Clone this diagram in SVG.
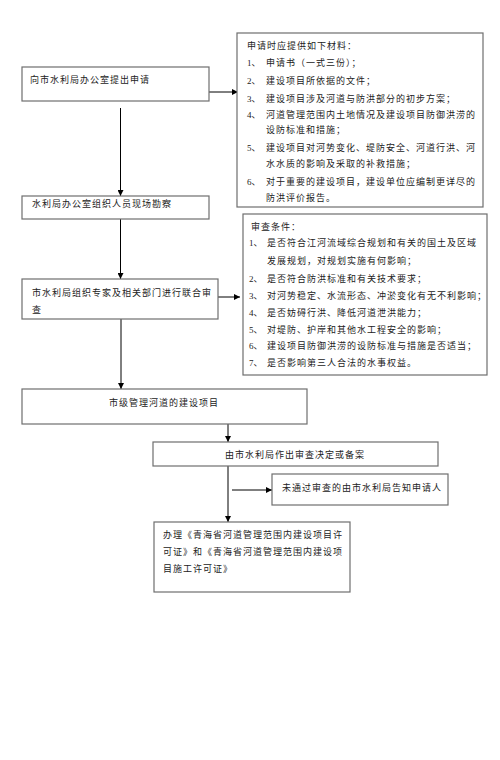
<svg xmlns="http://www.w3.org/2000/svg" width="500" height="760" viewBox="0 0 500 760">
<style>
.box{fill:#fff;stroke:#6e6e6e;stroke-width:1.2}
.ln{stroke:#000;stroke-width:1;fill:none}
text{font-family:"Liberation Serif","Noto Sans CJK SC",serif;font-size:9px;fill:#222;letter-spacing:1px;dominant-baseline:central}
.lb{letter-spacing:0}
</style>
<defs>
<marker id="ah" viewBox="0 0 6 6" refX="6" refY="3" markerWidth="6" markerHeight="6" markerUnits="userSpaceOnUse" orient="auto">
<path d="M0,0 L6,3 L0,6 Z" fill="#000"/>
</marker>
</defs>
<rect width="500" height="760" fill="#fff"/>
<g id="connectors">
<line class="ln" x1="209" y1="92" x2="238" y2="92" marker-end="url(#ah)"/>
<line class="ln" x1="120.5" y1="108" x2="120.5" y2="196" marker-end="url(#ah)"/>
<line class="ln" x1="120.5" y1="219" x2="120.5" y2="279" marker-end="url(#ah)"/>
<line class="ln" x1="218" y1="297" x2="240" y2="297" marker-end="url(#ah)"/>
<line class="ln" x1="121" y1="319" x2="121" y2="389" marker-end="url(#ah)"/>
<line class="ln" x1="228" y1="421" x2="228" y2="442" marker-end="url(#ah)"/>
<line class="ln" x1="228" y1="466" x2="228" y2="522" marker-end="url(#ah)"/>
<line class="ln" x1="232" y1="490" x2="272" y2="490" marker-end="url(#ah)"/>
</g>
<g id="n1">
<rect class="box" x="22" y="67" width="187" height="34"/>
<text x="30" y="80">向市水利局办公室提出申请</text>
</g>
<g id="n2">
<rect class="box" x="237" y="33" width="246" height="174"/>
<text x="247" y="46">申请时应提供如下材料：</text>
<text class="lb" x="247" y="63">1、</text><text x="266" y="63">申请书（一式三份）；</text>
<text class="lb" x="247" y="81">2、</text><text x="266" y="81">建设项目所依据的文件；</text>
<text class="lb" x="247" y="99">3、</text><text x="266" y="99">建设项目涉及河道与防洪部分的初步方案；</text>
<text class="lb" x="247" y="115">4、</text><text x="266" y="115">河道管理范围内土地情况及建设项目防御洪涝的</text>
<text x="266" y="130">设防标准和措施；</text>
<text class="lb" x="247" y="148">5、</text><text x="266" y="148">建设项目对河势变化、堤防安全、河道行洪、河</text>
<text x="266" y="164">水水质的影响及采取的补救措施；</text>
<text class="lb" x="247" y="182">6、</text><text x="266" y="182">对于重要的建设项目，建设单位应编制更详尽的</text>
<text x="266" y="198">防洪评价报告。</text>
</g>
<g id="n3">
<rect class="box" x="22" y="196" width="187" height="23"/>
<text x="32" y="204">水利局办公室组织人员现场勘察</text>
</g>
<g id="n4">
<rect class="box" x="243" y="214" width="244" height="161"/>
<text x="251" y="227">审查条件：</text>
<text class="lb" x="249" y="243">1、</text><text x="267" y="243">是否符合江河流域综合规划和有关的国土及区域</text>
<text x="267" y="261">发展规划，对规划实施有何影响；</text>
<text class="lb" x="249" y="279">2、</text><text x="267" y="279">是否符合防洪标准和有关技术要求；</text>
<text class="lb" x="249" y="296">3、</text><text x="267" y="296">对河势稳定、水流形态、冲淤变化有无不利影响；</text>
<text class="lb" x="249" y="313">4、</text><text x="267" y="313">是否妨碍行洪、降低河道泄洪能力；</text>
<text class="lb" x="249" y="330">5、</text><text x="267" y="330">对堤防、护岸和其他水工程安全的影响；</text>
<text class="lb" x="249" y="346">6、</text><text x="267" y="346">建设项目防御洪涝的设防标准与措施是否适当；</text>
<text class="lb" x="249" y="363">7、</text><text x="267" y="363">是否影响第三人合法的水事权益。</text>
</g>
<g id="n5">
<rect class="box" x="22" y="279" width="196" height="40"/>
<text x="32" y="293">市水利局组织专家及相关部门进行联合审</text>
<text x="32" y="310">查</text>
</g>
<g id="n6">
<rect class="box" x="22" y="389" width="285" height="35"/>
<text x="164" y="403" text-anchor="middle">市级管理河道的建设项目</text>
</g>
<g id="n7">
<rect class="box" x="153" y="442" width="285" height="24"/>
<text x="295" y="455" text-anchor="middle">由市水利局作出审查决定或备案</text>
</g>
<g id="n8">
<rect class="box" x="272" y="474" width="176" height="31"/>
<text x="282" y="488">未通过审查的由市水利局告知申请人</text>
</g>
<g id="n9">
<rect class="box" x="154" y="522" width="196" height="70"/>
<text x="163" y="535">办理《青海省河道管理范围内建设项目许</text>
<text x="163" y="552">可证》和《青海省河道管理范围内建设项</text>
<text x="163" y="569">目施工许可证》</text>
</g>
</svg>
